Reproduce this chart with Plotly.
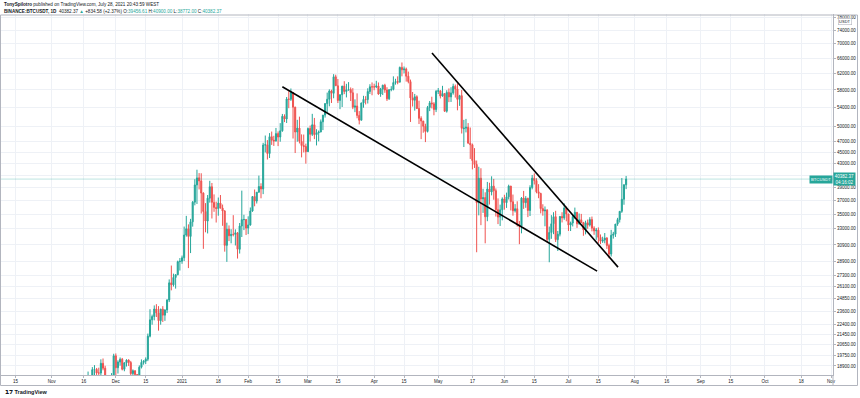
import math
import pandas as pd
import plotly.graph_objects as go

# ---------------- data (BINANCE:BTCUSDT, 1D) ----------------
start_date = "2020-11-16"

opens = [
    15957, 16716, 17645, 17804, 17817, 18621, 18642, 18370, 18364, 19107, 18732, 17150, 17108, 17717, 18177,
    19695, 18764, 19204, 19422, 18650, 19147, 19359, 19166, 18324, 18541, 18254, 18036, 18808, 19175, 19273, 19426, 21335, 22797, 23107, 23821, 23455, 22719, 23810, 23232, 23729, 24712, 26493, 26281, 27079, 27385, 28875,
    28923, 29331, 32176, 33000, 31989, 33949, 36769, 39432, 40586, 40088, 38150, 35410, 34049, 37371, 39145, 36737, 35994, 35824, 36622, 35901, 35468, 30851, 32950, 32078, 32259, 32254, 32464, 30362, 33368, 34246, 34262,
    33092, 33518, 35467, 37619, 36936, 38289, 39181, 38795, 46375, 46421, 44807, 47968, 47298, 47156, 48580, 47911, 49134, 52118, 51552, 55906, 55841, 57412, 54088, 48892, 49677, 47063, 46278, 46103,
    45134, 49596, 48436, 50349, 48374, 48747, 48882, 50959, 52376, 54874, 55851, 57773, 57221, 61188, 59000, 55586, 56900, 58913, 57648, 58030, 58100, 57351, 54083, 54342, 52303, 51293, 55026, 55818, 55782, 57635, 58746,
    58739, 58720, 58950, 57051, 58202, 59130, 57991, 55953, 58078, 58142, 59770, 60002, 59860, 63575, 62959, 63159, 61334, 60006, 56150, 55633, 56425, 53787, 51690, 51110, 50047, 49004, 54021, 55034, 54825, 53555,
    57697, 57797, 56578, 57169, 53205, 57436, 56393, 57315, 58866, 58240, 55817, 56671, 49538, 49671, 49844, 46726, 46427, 43538, 42849, 36671, 40526, 37263, 37458, 34655, 38795, 38325, 39241, 38529, 35661, 34606, 35641,
    37253, 36694, 37568, 39246, 36829, 35516, 35796, 33556, 33380, 37389, 36697, 37340, 35546, 39021, 40516, 40143, 38349, 38092, 35820, 35483, 35601, 31614, 32510, 33676, 34663, 31577, 32283, 34702, 34494, 35912,
    35045, 33502, 33786, 34669, 35288, 33690, 34220, 33863, 32875, 33815, 33503, 34259, 33086, 32730, 32820, 31874, 31384, 31520, 31779, 30839, 29790, 32144, 32287, 33634, 34261, 35425, 37208, 39456.61,
]
highs = [
    16880, 17858, 18476, 18143, 18815, 18965, 18750, 18770, 19418, 19484, 18916, 17457, 17853, 18360, 19863,
    19888, 19342, 19566, 19527, 19177, 19420, 19420, 19294, 18639, 18557, 18292, 18948, 19411, 19349, 19570, 21560, 23800, 23285, 24171, 24295, 24102, 23837, 24100, 23794, 24789, 26867, 28422, 27500, 27410, 28996, 29300,
    29600, 33300, 34778, 33600, 34360, 36939, 40365, 41950, 41380, 41350, 38264, 36628, 37850, 40100, 39747, 37950, 36852, 37469, 37850, 36415, 35600, 33826, 33456, 32944, 34875, 32921, 32557, 33783, 38531, 34933, 34342,
    34717, 35984, 37662, 38708, 38310, 40955, 39700, 46794, 48200, 47310, 48678, 48985, 48150, 49707, 49010, 50689, 52619, 52530, 56368, 57700, 58352, 57508, 54183, 51374, 52041, 48425, 48394, 46638,
    49790, 50200, 52640, 51773, 49448, 49200, 51450, 52402, 54900, 57387, 58150, 58058, 61844, 61719, 60633, 56939, 58982, 60100, 59468, 59880, 58600, 58430, 55830, 57200, 53237, 55073, 56640, 56559, 58400, 59368, 59800,
    59490, 60200, 59791, 58492, 59251, 59474, 58650, 58153, 58894, 61300, 60700, 61300, 63777, 64854, 63800, 63520, 62500, 60499, 57526, 57076, 56757, 55521, 52120, 51166, 50567, 54356, 55460, 56428, 55195, 57963,
    58458, 57911, 58981, 57200, 57939, 58360, 58650, 59500, 59300, 59592, 56862, 58000, 51367, 51570, 50700, 49795, 46643, 45799, 43546, 42451, 42200, 38829, 38270, 39920, 39791, 40841, 40411, 38877, 37338, 36400, 37499,
    37894, 38225, 39476, 39289, 37925, 36480, 36900, 34068, 37534, 38491, 37680, 37448, 39380, 41064, 41330, 40527, 39560, 38202, 36457, 36137, 35750, 33298, 34881, 35298, 35500, 32708, 34749, 35297, 36600, 36100,
    35057, 33977, 34945, 35967, 35293, 35118, 35059, 33929, 34100, 34262, 34590, 34679, 33340, 33114, 33185, 32249, 31955, 32435, 31899, 31063, 32858, 32591, 33650, 34500, 35398, 40550, 39542, 40900,
]
lows = [
    15870, 16531, 17214, 17335, 17740, 18018, 17610, 18000, 18018, 18570, 16188, 16438, 16878, 17517, 18178,
    18001, 18330, 18925, 18565, 18500, 18857, 18902, 18200, 17650, 17911, 17572, 18020, 18711, 19000, 19050, 19278, 21230, 22350, 22750, 23060, 21815, 22353, 22600, 22703, 23433, 24500, 25700, 26101, 25880, 27320, 27850,
    28624, 28946, 31962, 28130, 29900, 33288, 36300, 36500, 38720, 35111, 30420, 32531, 32380, 36701, 34408, 35357, 33850, 34800, 35844, 33400, 30071, 28850, 31390, 31106, 32000, 30837, 29241, 29842, 31915, 32825, 32171,
    32297, 33418, 35363, 36161, 36570, 38215, 37351, 37988, 45000, 43727, 43994, 46400, 46202, 47015, 46174, 47003, 48947, 50901, 50710, 53863, 55477, 47622, 44892, 47003, 46674, 44106, 45000, 43000,
    45115, 47047, 48100, 47500, 46300, 47070, 48882, 49274, 51845, 53005, 54272, 55013, 56078, 58966, 55000, 53650, 54120, 57023, 56270, 57820, 55450, 53650, 53000, 51700, 50427, 51283, 53967, 54691, 54900, 57072, 56769,
    57935, 58428, 56880, 56415, 56817, 57333, 55473, 55700, 57691, 57902, 59266, 59360, 59860, 61301, 62020, 60000, 59581, 50931, 54221, 53329, 53696, 50500, 47500, 48751, 46930, 48800, 53222, 53813, 52330, 53013,
    57052, 56035, 56435, 53046, 52901, 55200, 55241, 56900, 56235, 53400, 54370, 48600, 46000, 48817, 46555, 43825, 42001, 42250, 30000, 34850, 33488, 35200, 31111, 34031, 36419, 37800, 37134, 34684, 33632, 33379, 34153,
    35667, 35920, 37170, 35555, 34800, 35258, 33300, 31000, 32397, 35782, 35936, 34600, 34757, 38730, 39506, 38116, 37365, 35129, 34803, 33336, 31251, 28805, 31683, 32286, 31275, 30151, 32000, 33862, 34225, 34017,
    32711, 32699, 33316, 34357, 33125, 33532, 33777, 32077, 32261, 33004, 33300, 32658, 32202, 31550, 31133, 31020, 31164, 31108, 30408, 29278, 29482, 31708, 31925, 33401, 33851, 35205, 36384, 38772,
]
closes = [
    16716, 17645, 17804, 17817, 18621, 18642, 18370, 18364, 19107, 18732, 17150, 17108, 17717, 18177, 19695,
    18764, 19204, 19422, 18650, 19147, 19359, 19166, 18324, 18541, 18254, 18036, 18808, 19175, 19273, 19426, 21335, 22797, 23107, 23821, 23455, 22719, 23810, 23232, 23729, 24712, 26493, 26281, 27079, 27385, 28875, 28923,
    29331, 32178, 33000, 31988, 33949, 36769, 39432, 40582, 40088, 38150, 35404, 34051, 37372, 39144, 36742, 35994, 35828, 36631, 35891, 35468, 30850, 32945, 32078, 32259, 32254, 32467, 30366, 33364, 34252, 34262, 33092,
    33526, 35466, 37618, 36936, 38290, 39186, 38796, 46374, 46420, 44807, 47969, 47287, 47153, 48577, 47911, 49133, 52119, 51552, 55906, 55841, 57412, 54087, 48891, 49676, 47073, 46276, 46106, 45135,
    49587, 48440, 50349, 48374, 48751, 48882, 50971, 52375, 54884, 55851, 57773, 57221, 61188, 59000, 55585, 56900, 58912, 57648, 58030, 58102, 57351, 54083, 54341, 52303, 51293, 55025, 55817, 55777, 57635, 58746, 58740,
    58720, 58950, 57051, 58202, 59129, 57991, 55953, 58077, 58142, 59770, 60007, 59860, 63575, 62959, 63159, 61334, 60006, 56150, 55633, 56425, 53787, 51690, 51125, 50047, 49004, 54021, 55034, 54825, 53555, 57694,
    57800, 56578, 57170, 53200, 57436, 56393, 57314, 58862, 58240, 55816, 56670, 49631, 49670, 49841, 46762, 46431, 43538, 42849, 36690, 40526, 37252, 37449, 34655, 38796, 38324, 39241, 38529, 35663, 34605, 35641, 37253,
    36693, 37568, 39246, 36829, 35513, 35796, 33552, 33380, 37389, 36693, 37313, 35546, 39020, 40516, 40144, 38349, 38092, 35819, 35483, 35600, 31608, 32509, 33678, 34663, 31584, 32283, 34700, 34494, 35911, 35045,
    33504, 33786, 34669, 35287, 33690, 34220, 33863, 32875, 33815, 33502, 34259, 33086, 32729, 32820, 31880, 31383, 31520, 31778, 30839, 29790, 32144, 32287, 33634, 34258, 35425, 37208, 39456, 40382.37,
]

# drawn trend lines (user annotations)
trend1_dates = ["2021-02-17 00:00", "2021-07-14 10:00"]
trend1_prices = [58760, 27780]
trend2_dates = ["2021-04-28 02:00", "2021-07-24 05:00"]
trend2_prices = [67390, 28240]

# axis ticks
x_tick_dates = ["2020-10-15", "2020-11-01", "2020-11-16", "2020-12-01", "2020-12-15", "2021-01-01",
                "2021-01-18", "2021-02-01", "2021-02-15", "2021-03-01", "2021-03-15", "2021-04-01",
                "2021-04-15", "2021-05-01", "2021-05-17", "2021-06-01", "2021-06-15", "2021-07-01",
                "2021-07-15", "2021-08-01", "2021-08-16", "2021-09-01", "2021-09-15", "2021-10-01",
                "2021-10-18", "2021-11-01"]
x_tick_labels = ["15", "Nov", "16", "Dec", "15", "2021", "18", "Feb", "15", "Mar", "15", "Apr", "15",
                 "May", "17", "Jun", "15", "Jul", "15", "Aug", "16", "Sep", "15", "Oct", "18", "Nov"]
y_ticks = [18900, 19750, 20650, 21450, 22400, 23600, 24850, 26100, 27300, 28900, 30900, 33000, 35000,
           37000, 39000, 41000, 43000, 45000, 47000, 50000, 54000, 58000, 62000, 66000, 70000, 74000, 78000]
hidden_y_ticks = [41000]   # covered by the last-price label in the original

x_range = ["2020-10-07 18:00", "2021-11-01 21:36"]
y_range_prices = [18220, 78970]

assert len(opens) == len(highs) == len(lows) == len(closes)
dates = pd.date_range(start_date, periods=len(closes), freq="D")

# ---------------- styling ----------------
UP = "#26a69a"
DOWN = "#ef5350"
GRID = "#eef1f6"
AXIS = "#b2b5be"
TXT = "#131722"
FONT = "Liberation Sans, Arial, sans-serif"

W, H = 860, 398
ML, MR, MT, MB = 0, 27, 14, 23
PW = W - ML - MR
PH = H - MT - MB


def px_x(px):
    return (px - ML) / PW


def px_y(py):
    return (H - MB - py) / PH


fig = go.Figure()

# current price line
fig.add_trace(go.Scatter(
    x=x_range, y=[closes[-1], closes[-1]], mode="lines",
    line=dict(color="rgba(38,166,154,0.3)", width=1),
    hoverinfo="skip", showlegend=False))

fig.add_trace(go.Candlestick(
    x=dates, open=opens, high=highs, low=lows, close=closes,
    increasing=dict(line=dict(color=UP, width=1), fillcolor=UP),
    decreasing=dict(line=dict(color=DOWN, width=1), fillcolor=DOWN),
    whiskerwidth=0, showlegend=False, hoverinfo="skip"))

for d, p in ((trend1_dates, trend1_prices), (trend2_dates, trend2_prices)):
    fig.add_trace(go.Scatter(x=d, y=p, mode="lines", line=dict(color="#000000", width=1.6),
                             hoverinfo="skip", showlegend=False))

last = closes[-1]

annotations = [
    dict(xref="paper", yref="paper", x=px_x(2), y=px_y(4.5), xanchor="left", yanchor="middle",
         text="<b>TonySpilotro</b> published on TradingView.com, July 28, 2021 20:43:59 WEST",
         showarrow=False, font=dict(size=4.6, color=TXT, family=FONT)),
    dict(xref="paper", yref="paper", x=px_x(2), y=px_y(11), xanchor="left", yanchor="middle",
         text=("<b>BINANCE:BTCUSDT, 1D</b>  40382.37 <span style='color:%s'>▲</span> +834.58 (+2.37%%) "
               "O:<span style='color:%s'>%.2f</span> H:<span style='color:%s'>%.2f</span> "
               "L:<span style='color:%s'>%.2f</span> C:<span style='color:%s'>%.2f</span>")
         % (UP, UP, opens[-1], UP, highs[-1], UP, lows[-1], UP, last),
         showarrow=False, font=dict(size=4.6, color=TXT, family=FONT)),
    dict(xref="paper", yref="paper", x=px_x(3), y=px_y(392), xanchor="left", yanchor="middle",
         text="<b>𝟭𝟳 TradingView</b>", showarrow=False, font=dict(size=5.5, color=TXT, family=FONT)),
    dict(xref="paper", yref="y", x=px_x(833), y=math.log10(last), xanchor="left", yanchor="middle",
         yshift=0, text=f"{last:.2f}<br>04:16:02", showarrow=False, bgcolor=UP, borderpad=0.8,
         align="center", font=dict(size=4.5, color="white", family=FONT)),
    dict(xref="paper", yref="y", x=px_x(833), y=math.log10(last), xanchor="right", yanchor="middle",
         text="BTCUSDT", showarrow=False, bgcolor=UP, borderpad=1,
         font=dict(size=4.2, color="white", family=FONT)),
    dict(xref="paper", yref="paper", x=px_x(845), y=px_y(21), xanchor="center", yanchor="middle",
         text="USDT", showarrow=False, bgcolor="white", bordercolor=AXIS, borderwidth=0.6, borderpad=0.5,
         font=dict(size=4.0, color=TXT, family=FONT)),
]

shapes = [
    dict(type="rect", xref="paper", yref="paper", x0=px_x(0.5), x1=px_x(857.5), y0=px_y(385.5), y1=px_y(15),
         line=dict(color=AXIS, width=1), layer="above"),
    dict(type="line", xref="paper", yref="paper", x0=px_x(833), x1=px_x(833), y0=px_y(375), y1=px_y(385.5),
         line=dict(color=AXIS, width=1), layer="above"),
]

fig.update_layout(
    width=W, height=H, autosize=False,
    margin=dict(l=ML, r=MR, t=MT, b=MB, pad=0),
    paper_bgcolor="white", plot_bgcolor="white",
    font=dict(family=FONT, color=TXT, size=4.5),
    showlegend=False, hovermode=False,
    annotations=annotations, shapes=shapes,
    xaxis=dict(type="date", range=x_range, tickmode="array", tickvals=x_tick_dates, ticktext=x_tick_labels,
               showgrid=True, gridcolor=GRID, gridwidth=1, zeroline=False,
               ticks="outside", ticklen=2, tickcolor=AXIS, showline=True, linecolor=AXIS, linewidth=1,
               tickfont=dict(size=4.5, color=TXT, family=FONT), rangeslider=dict(visible=False),
               fixedrange=True),
    yaxis=dict(type="log", side="right",
               range=[math.log10(y_range_prices[0]), math.log10(y_range_prices[1])],
               tickmode="array", tickvals=y_ticks,
               ticktext=["" if v in hidden_y_ticks else f"{v:.2f}" for v in y_ticks],
               showgrid=True, gridcolor=GRID, gridwidth=1, zeroline=False,
               ticks="outside", ticklen=2, tickcolor=AXIS, showline=True, linecolor=AXIS, linewidth=1,
               tickfont=dict(size=4.5, color=TXT, family=FONT), fixedrange=True),
)

fig.write_html("out.html", config={"displayModeBar": False, "staticPlot": True},
               post_script="document.body.style.margin='0';document.body.style.overflow='hidden';")
